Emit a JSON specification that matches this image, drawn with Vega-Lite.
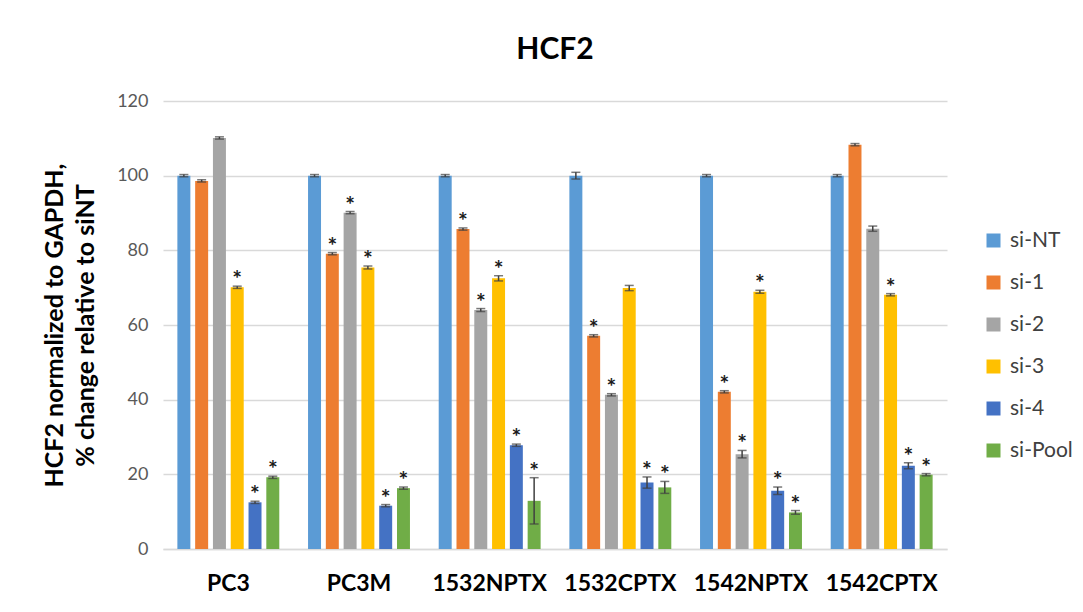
{
  "$schema": "https://vega.github.io/schema/vega-lite/v6.json",
  "width": 784,
  "height": 448,
  "autosize": {"type": "none"},
  "padding": {"left": 163, "top": 101, "right": 136, "bottom": 63},
  "background": "white",
  "title": {"text": "HCF2", "fontSize": 30, "font": "Lato", "fontWeight": "bold", "color": "#000000", "anchor": "middle", "offset": 27},
  "config": {"view": {"stroke": null}, "font": "Lato"},
  "data": {"values": [
    {"cell": "PC3", "si": "si-NT", "value": 100, "lo": 99.7, "hi": 100.3, "sig": false},
    {"cell": "PC3", "si": "si-1", "value": 98.6, "lo": 98.3, "hi": 98.9, "sig": false},
    {"cell": "PC3", "si": "si-2", "value": 110.1, "lo": 109.8, "hi": 110.4, "sig": false},
    {"cell": "PC3", "si": "si-3", "value": 70.1, "lo": 69.8, "hi": 70.4, "sig": true},
    {"cell": "PC3", "si": "si-4", "value": 12.5, "lo": 12.2, "hi": 12.8, "sig": true},
    {"cell": "PC3", "si": "si-Pool", "value": 19.2, "lo": 18.9, "hi": 19.5, "sig": true},
    {"cell": "PC3M", "si": "si-NT", "value": 100, "lo": 99.7, "hi": 100.3, "sig": false},
    {"cell": "PC3M", "si": "si-1", "value": 79.1, "lo": 78.8, "hi": 79.4, "sig": true},
    {"cell": "PC3M", "si": "si-2", "value": 90.1, "lo": 89.8, "hi": 90.4, "sig": true},
    {"cell": "PC3M", "si": "si-3", "value": 75.4, "lo": 75.0, "hi": 75.8, "sig": true},
    {"cell": "PC3M", "si": "si-4", "value": 11.6, "lo": 11.3, "hi": 11.9, "sig": true},
    {"cell": "PC3M", "si": "si-Pool", "value": 16.3, "lo": 16.0, "hi": 16.6, "sig": true},
    {"cell": "1532NPTX", "si": "si-NT", "value": 100, "lo": 99.7, "hi": 100.3, "sig": false},
    {"cell": "1532NPTX", "si": "si-1", "value": 85.7, "lo": 85.4, "hi": 86.0, "sig": true},
    {"cell": "1532NPTX", "si": "si-2", "value": 64.0, "lo": 63.6, "hi": 64.4, "sig": true},
    {"cell": "1532NPTX", "si": "si-3", "value": 72.5, "lo": 71.8, "hi": 73.2, "sig": true},
    {"cell": "1532NPTX", "si": "si-4", "value": 27.8, "lo": 27.5, "hi": 28.1, "sig": true},
    {"cell": "1532NPTX", "si": "si-Pool", "value": 12.9, "lo": 6.7, "hi": 19.1, "sig": true},
    {"cell": "1532CPTX", "si": "si-NT", "value": 100, "lo": 99.1, "hi": 100.9, "sig": false},
    {"cell": "1532CPTX", "si": "si-1", "value": 57.1, "lo": 56.8, "hi": 57.4, "sig": true},
    {"cell": "1532CPTX", "si": "si-2", "value": 41.3, "lo": 41.0, "hi": 41.6, "sig": true},
    {"cell": "1532CPTX", "si": "si-3", "value": 69.9, "lo": 69.2, "hi": 70.6, "sig": false},
    {"cell": "1532CPTX", "si": "si-4", "value": 17.8, "lo": 16.3, "hi": 19.3, "sig": true},
    {"cell": "1532CPTX", "si": "si-Pool", "value": 16.5, "lo": 14.9, "hi": 18.1, "sig": true},
    {"cell": "1542NPTX", "si": "si-NT", "value": 100, "lo": 99.7, "hi": 100.3, "sig": false},
    {"cell": "1542NPTX", "si": "si-1", "value": 42.1, "lo": 41.8, "hi": 42.4, "sig": true},
    {"cell": "1542NPTX", "si": "si-2", "value": 25.4, "lo": 24.4, "hi": 26.4, "sig": true},
    {"cell": "1542NPTX", "si": "si-3", "value": 68.9, "lo": 68.5, "hi": 69.3, "sig": true},
    {"cell": "1542NPTX", "si": "si-4", "value": 15.6, "lo": 14.6, "hi": 16.6, "sig": true},
    {"cell": "1542NPTX", "si": "si-Pool", "value": 9.8, "lo": 9.3, "hi": 10.3, "sig": true},
    {"cell": "1542CPTX", "si": "si-NT", "value": 100, "lo": 99.7, "hi": 100.3, "sig": false},
    {"cell": "1542CPTX", "si": "si-1", "value": 108.3, "lo": 108.0, "hi": 108.6, "sig": false},
    {"cell": "1542CPTX", "si": "si-2", "value": 85.8, "lo": 85.1, "hi": 86.5, "sig": false},
    {"cell": "1542CPTX", "si": "si-3", "value": 68.1, "lo": 67.8, "hi": 68.4, "sig": true},
    {"cell": "1542CPTX", "si": "si-4", "value": 22.3, "lo": 21.5, "hi": 23.1, "sig": true},
    {"cell": "1542CPTX", "si": "si-Pool", "value": 19.9, "lo": 19.6, "hi": 20.2, "sig": true}
  ]},
  "encoding": {
    "x": {"field": "cell", "type": "nominal", "sort": null,
      "scale": {"paddingInner": 0.22, "paddingOuter": 0.11},
      "axis": {"title": null, "labelAngle": 0, "labelFontSize": 23, "labelFontWeight": "bold", "labelColor": "#000000", "labelPadding": 23, "ticks": false, "domainColor": "#D9D9D9", "domainWidth": 1.5}},
    "xOffset": {"field": "si", "type": "nominal", "sort": ["si-NT", "si-1", "si-2", "si-3", "si-4", "si-Pool"], "scale": {"paddingInner": 0.27}}
  },
  "layer": [
    {
      "mark": {"type": "bar"},
      "encoding": {
        "y": {"field": "value", "type": "quantitative",
          "scale": {"domain": [0, 120]},
          "axis": {"values": [0, 20, 40, 60, 80, 100, 120], "title": ["HCF2 normalized to GAPDH,", "% change relative to siNT"], "titleFontSize": 25, "titleFontWeight": "bold", "titleColor": "#000000", "titleLineHeight": 31, "titlePadding": 18, "labelFontSize": 18, "labelColor": "#595959", "labelPadding": 15, "ticks": false, "domain": false, "gridColor": "#D9D9D9", "gridWidth": 1.5}},
        "color": {"field": "si", "type": "nominal",
          "scale": {"domain": ["si-NT", "si-1", "si-2", "si-3", "si-4", "si-Pool"], "range": ["#5B9BD5", "#ED7D31", "#A5A5A5", "#FFC000", "#4472C4", "#70AD47"]},
          "legend": {"title": null, "orient": "none", "legendX": 820, "legendY": 129, "symbolType": "square", "symbolSize": 196, "symbolStrokeWidth": 0, "labelFontSize": 21, "labelColor": "#404040", "rowPadding": 20, "labelOffset": 6}}
      }
    },
    {
      "mark": {"type": "rule", "color": "#404040", "strokeWidth": 1.5},
      "encoding": {"y": {"field": "lo", "type": "quantitative"}, "y2": {"field": "hi"}}
    },
    {
      "mark": {"type": "tick", "color": "#404040", "thickness": 1.5, "size": 9},
      "encoding": {"y": {"field": "lo", "type": "quantitative"}}
    },
    {
      "mark": {"type": "tick", "color": "#404040", "thickness": 1.5, "size": 9},
      "encoding": {"y": {"field": "hi", "type": "quantitative"}}
    },
    {
      "transform": [{"filter": "datum.sig"}],
      "mark": {"type": "text", "text": "*", "fontSize": 23, "fontWeight": "bold", "fill": "#1a1a1a", "baseline": "bottom", "dy": 6},
      "encoding": {"y": {"field": "hi", "type": "quantitative"}}
    }
  ]
}
